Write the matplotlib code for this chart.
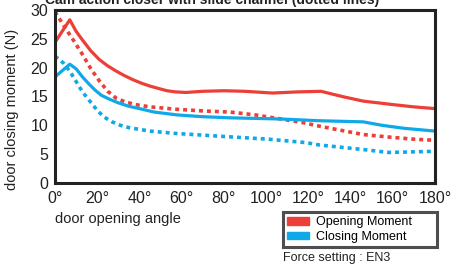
import numpy as np
import matplotlib
matplotlib.use("Agg")
import matplotlib.pyplot as plt
from matplotlib.patches import Patch

plt.rcParams["font.family"] = ["Liberation Sans", "DejaVu Sans"]

RED = "#ec3f38"
BLUE = "#10a9e8"

# opening moment, standard closer (solid)
open_solid_deg = [0, 7, 10, 13, 17, 21, 25, 29, 33, 37, 41, 45, 49, 53, 57, 62, 70, 80, 90, 103, 115, 126,
                  136, 146, 160, 170, 180]
open_solid_n = [24.4, 28.3, 26.3, 24.8, 22.9, 21.4, 20.3, 19.4, 18.6, 17.9, 17.3, 16.8, 16.4, 16.0, 15.8,
                15.7, 15.9, 16.0, 15.9, 15.6, 15.8, 15.9, 15.0, 14.2, 13.6, 13.2, 12.9]

# opening moment, cam action with slide channel (dotted)
open_dot_deg = [0, 5, 9, 13, 17, 21, 25, 29, 33, 38, 45, 57, 70, 83, 95, 107, 117, 126, 146, 160, 170, 180]
open_dot_n = [29.7, 26.8, 24.6, 22.3, 19.8, 17.7, 15.9, 14.7, 14.1, 13.6, 13.2, 12.8, 12.5, 12.3, 11.8, 11.1,
              10.5, 9.8, 8.4, 7.9, 7.6, 7.4]

# closing moment, standard closer (solid)
close_solid_deg = [0, 7, 10, 13, 16, 19, 22, 26, 30, 35, 40, 47, 58, 70, 83, 95, 107, 125, 146, 155, 165, 180]
close_solid_n = [18.4, 20.6, 19.8, 18.4, 17.2, 16.1, 15.2, 14.5, 13.9, 13.3, 12.9, 12.3, 11.8, 11.5, 11.3,
                 11.2, 11.1, 10.8, 10.6, 10.0, 9.5, 9.0]

# closing moment, cam action with slide channel (dotted)
close_dot_deg = [0, 4, 7, 10, 13, 16.5, 20, 23, 27, 31, 35, 40, 45, 57, 83, 101, 119, 125, 146, 158, 170, 180]
close_dot_n = [22.0, 20.8, 19.4, 17.6, 15.8, 14.2, 12.6, 11.5, 10.6, 10.0, 9.6, 9.3, 9.0, 8.6, 8.0, 7.6, 7.0,
               6.6, 5.8, 5.3, 5.4, 5.5]

x_ticks = [0, 20, 40, 60, 80, 100, 120, 140, 160, 180]
y_ticks = [0, 5, 10, 15, 20, 25, 30]

fig = plt.figure(figsize=(4.54, 2.66), dpi=100)
ax = fig.add_axes([55 / 454, 1 - 183 / 266, 380 / 454, 173 / 266])

dot_style = (0, (1.1, 1.1))
ax.plot(open_solid_deg, open_solid_n, color=RED, lw=2.3, solid_joinstyle="round")
ax.plot(open_dot_deg, open_dot_n, color=RED, lw=2.6, ls=dot_style)
ax.plot(close_solid_deg, close_solid_n, color=BLUE, lw=2.3, solid_joinstyle="round")
ax.plot(close_dot_deg, close_dot_n, color=BLUE, lw=2.6, ls=dot_style)

ax.set_xlim(0, 180)
ax.set_ylim(0, 30)
ax.set_xticks(x_ticks)
ax.set_xticklabels([f"{a}°" for a in x_ticks])
ax.set_yticks(y_ticks)
ax.tick_params(length=0, labelsize=11.5, colors="#222222")
ax.tick_params(axis="x", pad=6)
ax.tick_params(axis="y", pad=5)
for s in ax.spines.values():
    s.set_linewidth(2.2)
    s.set_color("#222222")

fig.text(12 / 454, 1 - 109 / 266, "door closing moment (N)", rotation=90, ha="center", va="center",
         fontsize=10.5, color="#222222")
fig.text(55 / 454, 1 - 219 / 266, "door opening angle", ha="left", va="center", fontsize=10.5,
         color="#222222")
# title is cropped at the top edge in the source image
fig.text(212 / 454, 1 - 4 / 266, "Cam action closer with slide channel (dotted lines)", ha="center",
         va="baseline", fontsize=10, fontweight="bold", color="#222222")

handles = [Patch(color=RED, label="Opening Moment"), Patch(color=BLUE, label="Closing Moment")]
leg = fig.legend(handles=handles, loc="upper left", mode="expand",
                 bbox_to_anchor=(283 / 454, 1 - 212 / 266, 154 / 454, 0.0),
                 fontsize=9, frameon=True, fancybox=False, handlelength=1.7, handleheight=0.6,
                 handletextpad=0.6, borderpad=0.35, labelspacing=0.2, borderaxespad=0)
leg.get_frame().set_edgecolor("#222222")
leg.get_frame().set_linewidth(2.2)
fig.text(283 / 454, 1 - 258 / 266, "Force setting : EN3", ha="left", va="center", fontsize=9,
         color="#222222")

fig.savefig("out.png", dpi=100)
